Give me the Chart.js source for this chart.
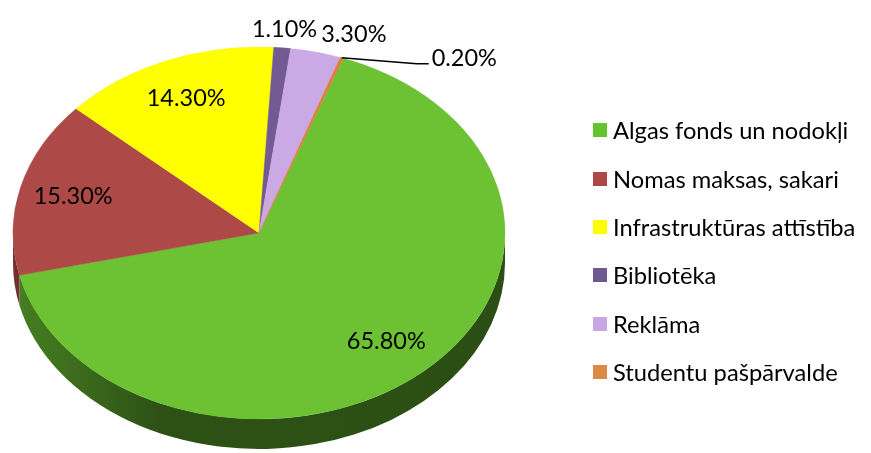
<!DOCTYPE html>
<html>
<head>
<meta charset="utf-8">
<script src="https://cdn.jsdelivr.net/npm/chart.js@4"></script>
<style>
	html, body { margin: 0; padding: 0; background: #fff; }
	#quadro { position: relative; width: 871px; height: 453px; }
	#grafico { position: absolute; left: 0; top: 0; }
	#legenda { position: absolute; left: 593px; top: 106px; font-family: Lato, sans-serif; font-size: 23.7px; color: #000; }
	.item { display: flex; align-items: center; height: 48.4px; white-space: nowrap; }
	.caixa { width: 14px; height: 14px; margin-right: 6px; flex: none; }
</style>
</head>
<body>
<div id="quadro">
	<canvas id="grafico" width="871" height="453"></canvas>
	<div id="legenda"></div>
</div>
<script>
var categorias = ['Algas fonds un nodokļi', 'Nomas maksas, sakari', 'Infrastruktūras attīstība', 'Bibliotēka', 'Reklāma', 'Studentu pašpārvalde'];
var valores = [65.8, 15.3, 14.3, 1.1, 3.3, 0.2];
var rotulos = ['65.80%', '15.30%', '14.30%', '1.10%', '3.30%', '0.20%'];
var cores = ['#6cc232', '#ad4a47', '#ffff00', '#735a93', '#cba9e5', '#e07d3c'];
var coresLegenda = ['#66c330', '#ab4845', '#ffff00', '#6f5892', '#c9a7e3', '#dc8a45'];

var ACHATAMENTO = 0.756;
var PROFUNDIDADE = 30;
var FONTE = '23.5px Lato, sans-serif';

function escurecer(hex, f) {
	var n = parseInt(hex.slice(1), 16);
	var r = Math.round(((n >> 16) & 255) * f);
	var g = Math.round(((n >> 8) & 255) * f);
	var b = Math.round((n & 255) * f);
	return 'rgb(' + r + ',' + g + ',' + b + ')';
}

// lateral da pizza (so a metade da frente aparece)
function desenharLado(ctx, cx, cy, rx, ry, a, b, cor) {
	var grad = ctx.createLinearGradient(cx - rx, 0, cx + rx, 0);
	grad.addColorStop(0, escurecer(cor, 0.66));
	grad.addColorStop(0.3, escurecer(cor, 0.42));
	grad.addColorStop(1, escurecer(cor, 0.40));
	ctx.beginPath();
	ctx.ellipse(cx, cy, rx, ry, 0, a, b, false);
	ctx.lineTo(cx + rx * Math.cos(b), cy + ry * Math.sin(b) + PROFUNDIDADE);
	ctx.ellipse(cx, cy + PROFUNDIDADE, rx, ry, 0, b, a, true);
	ctx.closePath();
	ctx.fillStyle = grad;
	ctx.fill();
}

var pizza3d = {
	id: 'pizza3d',
	beforeDatasetsDraw: function(chart) {
		var ctx = chart.ctx;
		var arcos = chart.getDatasetMeta(0).data;
		var cx = arcos[0].x, cy = arcos[0].y, r = arcos[0].outerRadius;
		var ry = r * ACHATAMENTO;
		arcos.forEach(function(arco, i) {
			[-2, 0, 2].forEach(function(k) {
				var a = Math.max(arco.startAngle, k * Math.PI);
				var b = Math.min(arco.endAngle, (k + 1) * Math.PI);
				if (b > a) {
					desenharLado(ctx, cx, cy, r, ry, a, b, cores[i]);
				}
			});
		});
		ctx.save();
		ctx.translate(cx, cy);
		ctx.scale(1, ACHATAMENTO);
		ctx.translate(-cx, -cy);
	},
	afterDatasetsDraw: function(chart) {
		var ctx = chart.ctx;
		ctx.restore();
		var arcos = chart.getDatasetMeta(0).data;
		var total = valores.reduce(function(s, v) { return s + v; }, 0);
		ctx.save();
		ctx.font = FONTE;
		ctx.fillStyle = '#000';
		ctx.strokeStyle = '#000';
		ctx.textBaseline = 'middle';
		var anterior = null;
		arcos.forEach(function(arco, i) {
			var meio = (arco.startAngle + arco.endAngle) / 2;
			var cos = Math.cos(meio), sen = Math.sin(meio);
			var r = arco.outerRadius;
			var pct = valores[i] / total;
			var w = ctx.measureText(rotulos[i]).width;
			if (pct >= 0.05) {
				ctx.textAlign = 'center';
				ctx.fillText(rotulos[i], arco.x + cos * r * 0.78, arco.y + sen * r * 0.78 * ACHATAMENTO);
			} else if (pct >= 0.01) {
				var x = arco.x + cos * r * 1.1;
				var y = arco.y + sen * r * 1.1 * ACHATAMENTO;
				var esq = x - w / 2;
				if (anterior !== null && esq < anterior + 4) {
					esq = anterior + 4;
				}
				ctx.textAlign = 'left';
				ctx.fillText(rotulos[i], esq, y);
				anterior = esq + w;
			} else {
				var bx = arco.x + cos * r;
				var by = arco.y + sen * r * ACHATAMENTO;
				ctx.lineWidth = 1.5;
				ctx.beginPath();
				ctx.moveTo(bx, by);
				ctx.lineTo(bx + 75, by + 6);
				ctx.lineTo(bx + 87, by + 6);
				ctx.stroke();
				ctx.textAlign = 'left';
				ctx.fillText(rotulos[i], bx + 90, by + 1);
			}
		});
		ctx.restore();
	}
};

var grafico = new Chart(document.getElementById('grafico').getContext('2d'), {
	type: 'pie',
	data: {
		labels: categorias,
		datasets: [{
			data: valores,
			backgroundColor: cores,
			borderColor: cores,
			borderWidth: 0.5,
			radius: 246,
			clip: false
		}]
	},
	options: {
		responsive: false,
		animation: false,
		events: [],
		rotation: 20,
		layout: { padding: { left: 0, right: 353, top: 13, bottom: 0 } },
		plugins: {
			legend: { display: false },
			tooltip: { enabled: false }
		}
	},
	plugins: [pizza3d]
});

var legenda = document.getElementById('legenda');
categorias.forEach(function(nome, i) {
	var item = document.createElement('div');
	item.className = 'item';
	var caixa = document.createElement('span');
	caixa.className = 'caixa';
	caixa.style.background = coresLegenda[i];
	var texto = document.createElement('span');
	texto.textContent = nome;
	item.appendChild(caixa);
	item.appendChild(texto);
	legenda.appendChild(item);
});
</script>
</body>
</html>
